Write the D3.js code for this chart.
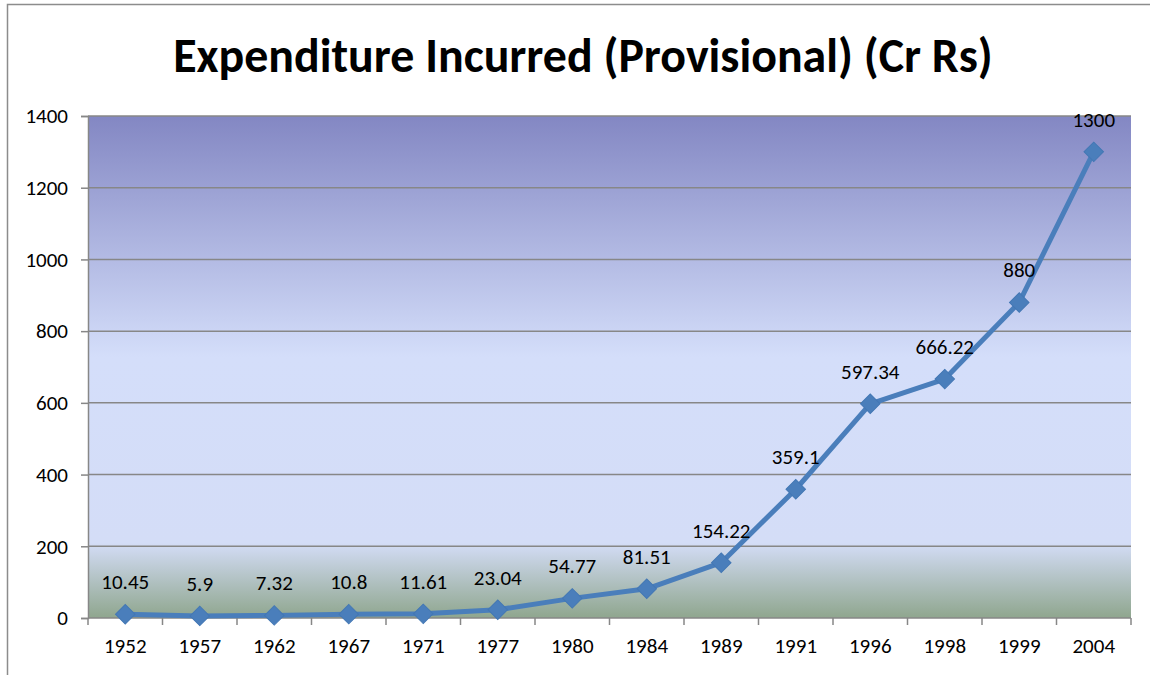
<!DOCTYPE html>
<html>
<head>
<meta charset="utf-8">
<script src="https://cdn.jsdelivr.net/npm/d3@7"></script>
<style>
  body { margin: 0; background: #fff; }
  text { font-family: Carlito, Lato, sans-serif; fill: #000; }
</style>
</head>
<body>
<script>
// data
var years = ["1952","1957","1962","1967","1971","1977","1980","1984","1989","1991","1996","1998","1999","2004"];
var spend = [10.45, 5.9, 7.32, 10.8, 11.61, 23.04, 54.77, 81.51, 154.22, 359.1, 597.34, 666.22, 880, 1300];
var yTicks = [0, 200, 400, 600, 800, 1000, 1200, 1400];
var title = "Expenditure Incurred (Provisional) (Cr Rs)";

var W = 1150, H = 675;
var margin = {top: 116, left: 88, right: 19, bottom: 57},
    width = W - margin.left - margin.right,
    height = H - margin.top - margin.bottom;

var svg = d3.select("body").append("svg")
    .attr("width", W)
    .attr("height", H);

// outer chart frame
svg.append("rect")
    .attr("x", 7.5).attr("y", 4.5)
    .attr("width", W + 20).attr("height", H + 20)
    .attr("fill", "#fff")
    .attr("stroke", "#8c8c8c")
    .attr("stroke-width", 1.5);

var grad = svg.append("defs").append("linearGradient")
    .attr("id", "bg").attr("x1", 0).attr("y1", 0).attr("x2", 0).attr("y2", 1);
grad.append("stop").attr("offset", "0%").attr("stop-color", "#8387c3");
grad.append("stop").attr("offset", "48%").attr("stop-color", "#d4defa");
grad.append("stop").attr("offset", "85%").attr("stop-color", "#d4ddf7");
grad.append("stop").attr("offset", "100%").attr("stop-color", "#8fa68e");

var t = svg.append("text")
    .attr("x", 583).attr("y", 72)
    .attr("text-anchor", "middle")
    .style("font-weight", "bold")
    .style("font-size", "42px")
    .text(title);
var tl = t.node().getComputedTextLength();
t.style("font-size", (42 * 820 / tl) + "px");

var g = svg.append("g")
    .attr("transform", "translate(" + margin.left + "," + margin.top + ")");

var x = d3.scaleBand().domain(years).range([0, width]);
var y = d3.scaleLinear().domain([0, 1400]).range([height, 0]);

g.append("rect")
    .attr("width", width).attr("height", height)
    .attr("fill", "url(#bg)");

// gridlines
g.selectAll(".grid").data(yTicks.slice(1)).enter().append("line")
    .attr("x1", 0).attr("x2", width)
    .attr("y1", function(d) { return y(d); })
    .attr("y2", function(d) { return y(d); })
    .attr("stroke", "#878787")
    .attr("stroke-width", 1.5);

var yAxis = g.append("g")
    .call(d3.axisLeft(y).tickValues(yTicks).tickSize(7).tickPadding(13).tickFormat(d3.format("d")));
yAxis.select(".domain").attr("stroke", "#878787").attr("stroke-width", 1.5);
yAxis.selectAll(".tick line").attr("stroke", "#878787").attr("stroke-width", 1.5);
yAxis.selectAll("text").style("font-size", "21px").style("font-family", "Carlito, Lato, sans-serif").attr("fill", "#000");

// category axis with ticks on the band edges
var xAxis = g.append("g")
    .attr("transform", "translate(0," + height + ")");
xAxis.append("line")
    .attr("x1", 0).attr("x2", width)
    .attr("stroke", "#878787").attr("stroke-width", 1.5);
xAxis.selectAll(".edge").data(years.concat(["end"])).enter().append("line")
    .attr("x1", function(d, i) { return i * x.step(); })
    .attr("x2", function(d, i) { return i * x.step(); })
    .attr("y1", 0).attr("y2", 7)
    .attr("stroke", "#878787").attr("stroke-width", 1.5);
xAxis.selectAll(".lab").data(years).enter().append("text")
    .attr("x", function(d) { return x(d) + x.bandwidth() / 2; })
    .attr("y", 35)
    .attr("text-anchor", "middle")
    .style("font-size", "21px")
    .text(function(d) { return d; });

var pts = years.map(function(d, i) { return [x(d) + x.bandwidth() / 2, y(spend[i]), spend[i]]; });

var line = d3.line()
    .x(function(d) { return d[0]; })
    .y(function(d) { return d[1]; });

g.append("path")
    .attr("d", line(pts))
    .attr("fill", "none")
    .attr("stroke", "#4a7ebb")
    .attr("stroke-width", 5)
    .attr("stroke-linejoin", "round");

g.selectAll(".mark").data(pts).enter().append("path")
    .attr("d", d3.symbol().type(d3.symbolSquare).size(190))
    .attr("transform", function(d) { return "translate(" + d[0] + "," + d[1] + ") rotate(45)"; })
    .attr("fill", "#4a7ebb")
    .attr("stroke", "#4377b4")
    .attr("stroke-width", 1);

g.selectAll(".val").data(pts).enter().append("text")
    .attr("x", function(d) { return d[0]; })
    .attr("y", function(d) { return d[1] - 25; })
    .attr("text-anchor", "middle")
    .style("font-size", "21px")
    .text(function(d) { return d[2]; });
</script>
</body>
</html>
